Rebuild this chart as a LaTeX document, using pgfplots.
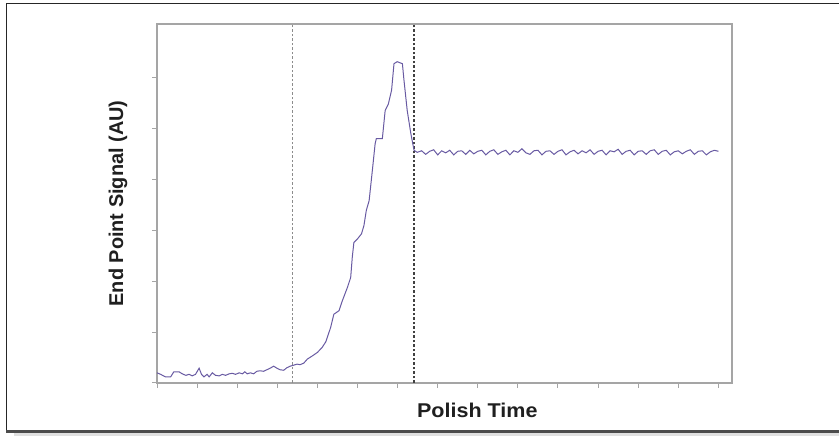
\documentclass[border=0pt]{standalone}
\usepackage{pgfplots}
\pgfplotsset{compat=1.18}
\usepackage{fontspec}
\setmainfont{Liberation Sans}

\definecolor{sigline}{RGB}{104,90,162}
\definecolor{boxgray}{RGB}{165,165,165}

\begin{document}
\begin{tikzpicture}[x=1bp,y=1bp]
\useasboundingbox (0,0) rectangle (839,436);
% outer frame
\fill[black!12] (14,0) rectangle (839,3);
\draw[black!85, line width=1.5bp] (6.5,432) -- (6.5,4) ;
\draw[black!85, line width=1.5bp] (6,432.5) -- (839,432.5);
\draw[black!70, line width=3bp] (6,4.5) -- (839,4.5);

\begin{axis}[
    at={(157bp,53bp)}, anchor=south west,
    width=575bp, height=359bp, scale only axis,
    xmin=0, xmax=14.34,
    ymin=0, ymax=7.05,
    xtick={0,1,...,14}, ytick={0,1,...,6},
    xticklabels={}, yticklabels={},
    xtick pos=bottom, ytick pos=left,
    tick align=outside,
    major tick length=5bp,
    tick style={boxgray, line width=1bp},
    axis line style={boxgray, line width=1.6bp},
    xlabel={Polish Time},
    ylabel={End Point Signal (AU)},
    label style={font=\fontsize{20}{23}\selectfont\bfseries, text=black!88},
    xlabel style={at={(axis description cs:0.557,-0.075)}, anchor=center, xscale=1.08},
    ylabel style={at={(axis description cs:-0.068,0.5)}, anchor=center},
    clip=false,
]
% phase boundaries
\addplot[black!45, line width=0.9bp, dash pattern=on 2.5bp off 2bp] coordinates {(3.39,0) (3.39,7.05)};
\addplot[black!75, line width=1.1bp, dash pattern=on 2.5bp off 2bp] coordinates {(6.41,0) (6.41,7.05)};

% end point signal
\addplot[sigline, line width=1bp] coordinates {
(0,0.2) (0.09,0.17) (0.21,0.12) (0.34,0.12) (0.42,0.22) (0.55,0.22) (0.63,0.18)
(0.72,0.15) (0.8,0.17) (0.88,0.14) (0.96,0.17) (1.05,0.29) (1.11,0.17) (1.17,0.12)
(1.25,0.17) (1.3,0.12) (1.38,0.2) (1.46,0.15) (1.55,0.14) (1.63,0.17) (1.71,0.15)
(1.8,0.18) (1.88,0.19) (1.96,0.17) (2.05,0.2) (2.13,0.18) (2.19,0.22) (2.25,0.18)
(2.33,0.2) (2.41,0.18) (2.49,0.23) (2.57,0.24) (2.66,0.23) (2.74,0.26) (2.82,0.29)
(2.91,0.33) (2.99,0.29) (3.07,0.26) (3.16,0.25) (3.24,0.3) (3.32,0.33) (3.41,0.35)
(3.49,0.37) (3.57,0.36) (3.66,0.39) (3.75,0.47) (3.87,0.53) (4.0,0.6) (4.12,0.7)
(4.21,0.81) (4.33,1.09) (4.41,1.35) (4.54,1.42) (4.62,1.61) (4.75,1.88) (4.83,2.07)
(4.87,2.47) (4.91,2.76) (5.0,2.83) (5.1,2.93) (5.16,3.09) (5.22,3.39) (5.29,3.58)
(5.37,4.17) (5.44,4.7) (5.47,4.8) (5.62,4.8) (5.69,5.35) (5.77,5.48) (5.85,5.75)
(5.91,6.27) (5.99,6.31) (6.12,6.27) (6.16,5.94) (6.24,5.35) (6.33,4.9) (6.41,4.57)
(6.49,4.53) (6.6,4.56) (6.7,4.49) (6.8,4.55) (6.9,4.58) (7.0,4.48) (7.1,4.56)
(7.2,4.52) (7.3,4.57) (7.4,4.48) (7.5,4.55) (7.6,4.56) (7.7,4.49) (7.8,4.57)
(7.9,4.5) (8.0,4.55) (8.1,4.57) (8.2,4.48) (8.3,4.55) (8.4,4.58) (8.5,4.49)
(8.6,4.54) (8.7,4.57) (8.8,4.48) (8.9,4.56) (9.0,4.53) (9.1,4.6) (9.2,4.52)
(9.3,4.49) (9.4,4.56) (9.5,4.57) (9.6,4.48) (9.7,4.55) (9.8,4.56) (9.9,4.49)
(10.0,4.55) (10.1,4.58) (10.2,4.48) (10.3,4.54) (10.4,4.57) (10.5,4.5) (10.6,4.56)
(10.7,4.52) (10.8,4.58) (10.9,4.49) (11.0,4.55) (11.1,4.57) (11.2,4.48) (11.3,4.56)
(11.4,4.54) (11.5,4.59) (11.6,4.49) (11.7,4.55) (11.8,4.57) (11.9,4.48) (12.0,4.55)
(12.1,4.56) (12.2,4.49) (12.3,4.56) (12.4,4.58) (12.5,4.49) (12.6,4.55) (12.7,4.57)
(12.8,4.48) (12.9,4.54) (13.0,4.56) (13.1,4.5) (13.2,4.55) (13.3,4.58) (13.4,4.49)
(13.5,4.55) (13.6,4.56) (13.7,4.48) (13.8,4.54) (13.9,4.57) (14.0,4.55)
};
\end{axis}
\end{tikzpicture}
\end{document}
